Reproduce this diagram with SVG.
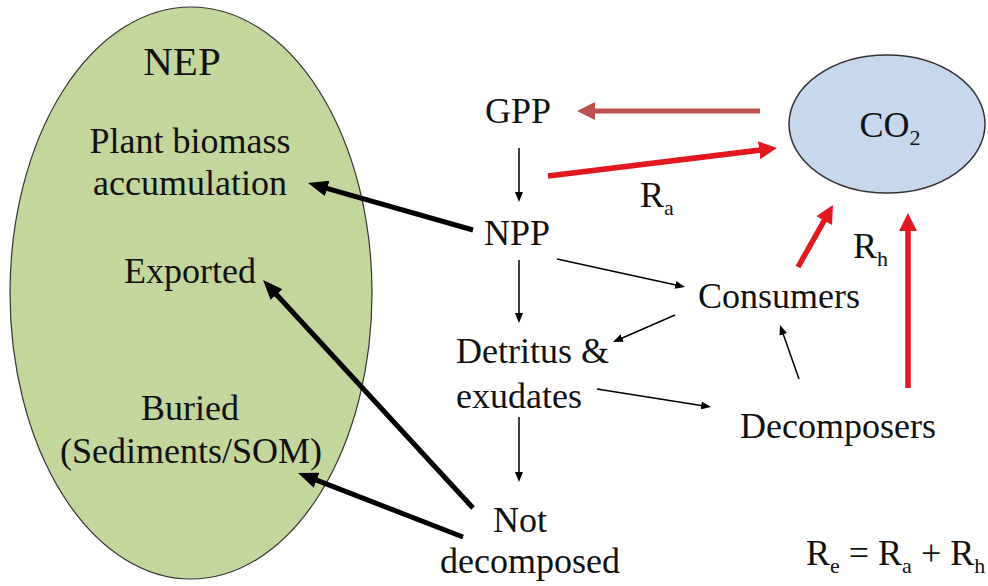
<svg xmlns="http://www.w3.org/2000/svg" width="988" height="586" viewBox="0 0 988 586">
<style>
text{font-family:"Liberation Serif","Times New Roman",serif;font-size:36px;fill:#111;}
.sub{font-size:22px;}
.thick{stroke:#000;stroke-width:5;fill:none;}
.thin{stroke:#000;stroke-width:1.5;fill:none;}
.red{stroke:#e3171e;stroke-width:5.5;fill:none;}
.brown{stroke:#b9524e;stroke-width:5;fill:none;}
</style>
<defs>
<marker id="ahThick" markerUnits="userSpaceOnUse" markerWidth="20" markerHeight="16" refX="5" refY="8" orient="auto"><path d="M0,0 L20,8 L0,16 z" fill="#000"/></marker>
<marker id="ahRed" markerUnits="userSpaceOnUse" markerWidth="18" markerHeight="18" refX="5" refY="9" orient="auto"><path d="M0,0 L18,9 L0,18 z" fill="#e3171e"/></marker>
<marker id="ahBrown" markerUnits="userSpaceOnUse" markerWidth="18" markerHeight="18" refX="5" refY="9" orient="auto"><path d="M0,0 L18,9 L0,18 z" fill="#b9524e"/></marker>
<marker id="ahThin" markerUnits="userSpaceOnUse" markerWidth="10" markerHeight="8" refX="3" refY="4" orient="auto"><path d="M0,0 L10,4 L0,8 z" fill="#000"/></marker>
</defs>
<rect width="988" height="586" fill="#fff"/>

<g id="nep">
<ellipse cx="191" cy="293" rx="181" ry="286" fill="#c3d69b" stroke="#333" stroke-width="1.2"/>
<text x="182" y="75" text-anchor="middle" style="font-size:41px">NEP</text>
<text x="190" y="153" text-anchor="middle">Plant biomass</text>
<text x="190" y="195" text-anchor="middle">accumulation</text>
<text x="190" y="283" text-anchor="middle">Exported</text>
<text x="190" y="420" text-anchor="middle">Buried</text>
<text x="191" y="463" text-anchor="middle">(Sediments/SOM)</text>
</g>

<g id="co2">
<ellipse cx="887" cy="124" rx="98" ry="69" fill="#c6d7ee" stroke="#333" stroke-width="1.5"/>
<text x="890" y="137" text-anchor="middle">CO<tspan class="sub" dy="8">2</tspan></text>
</g>

<g id="gpp"><text x="518" y="123" text-anchor="middle">GPP</text></g>
<g id="npp"><text x="517" y="245" text-anchor="middle">NPP</text></g>
<g id="detritus"><text x="456" y="363">Detritus &amp;</text><text x="456" y="408">exudates</text></g>
<g id="notdecomposed"><text x="520" y="532" text-anchor="middle">Not</text><text x="530" y="573" text-anchor="middle">decomposed</text></g>
<g id="consumers"><text x="698" y="308">Consumers</text></g>
<g id="decomposers"><text x="740" y="438">Decomposers</text></g>

<g id="labels">
<text x="640" y="207">R<tspan class="sub" dy="8">a</tspan></text>
<text x="853" y="258">R<tspan class="sub" dy="8">h</tspan></text>
<text x="806" y="565">R<tspan class="sub" dy="8">e</tspan><tspan dy="-8"> = R</tspan><tspan class="sub" dy="8">a</tspan><tspan dy="-8"> + R</tspan><tspan class="sub" dy="8">h</tspan></text>
</g>

<g id="connectors">
<line class="brown" x1="760" y1="111" x2="590" y2="111" marker-end="url(#ahBrown)"/>
<line class="red" x1="548" y1="176" x2="764.1" y2="149.6" marker-end="url(#ahRed)"/>
<line class="red" x1="798" y1="267" x2="826.6" y2="216.3" marker-end="url(#ahRed)"/>
<line class="red" x1="908" y1="388" x2="908" y2="226" marker-end="url(#ahRed)"/>
<line class="thick" x1="473" y1="230" x2="322.4" y2="187.1" marker-end="url(#ahThick)"/>
<line class="thick" x1="473" y1="508" x2="273.2" y2="291" marker-end="url(#ahThick)"/>
<line class="thick" x1="463" y1="537" x2="312" y2="478.4" marker-end="url(#ahThick)"/>
<line class="thin" x1="519" y1="148" x2="519" y2="195" marker-end="url(#ahThin)"/>
<line class="thin" x1="557" y1="259" x2="678.2" y2="285.5" marker-end="url(#ahThin)"/>
<line class="thin" x1="519" y1="260" x2="519" y2="316" marker-end="url(#ahThin)"/>
<line class="thin" x1="675" y1="315" x2="619.4" y2="339.2" marker-end="url(#ahThin)"/>
<line class="thin" x1="799" y1="379" x2="782.3" y2="331.6" marker-end="url(#ahThin)"/>
<line class="thin" x1="597" y1="389" x2="704.1" y2="405.9" marker-end="url(#ahThin)"/>
<line class="thin" x1="519" y1="417" x2="519" y2="475" marker-end="url(#ahThin)"/>
</g>
</svg>
